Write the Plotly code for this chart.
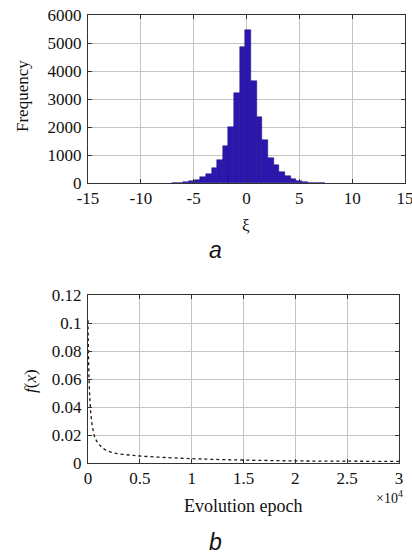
import plotly.graph_objects as go

# ---- Panel a: histogram of xi ----
xi_centers = [-6.79, -6.25, -5.72, -5.18, -4.65, -4.11, -3.58, -3.04, -2.51, -1.97,
              -1.44, -0.90, -0.37, 0.17, 0.70, 1.24, 1.77, 2.31, 2.84, 3.38,
              3.91, 4.45, 4.98, 5.52, 6.05, 6.59, 7.12]
xi_counts = [5, 12, 28, 60, 110, 200, 330, 540, 820, 1320,
             1990, 3225, 4870, 5450, 3655, 2346, 1520, 900, 630, 410,
             250, 150, 71, 36, 14, 6, 3]
bin_width = 0.535

# ---- Panel b: objective vs epoch ----
epochs = [0, 20, 50, 100, 150, 193, 290, 450, 700, 1100, 1700, 2700, 4000, 5000,
          7800, 10000, 12000, 15000, 20000, 25000, 30000]
fx = [0.102, 0.090, 0.075, 0.060, 0.050, 0.044, 0.034, 0.025, 0.0176, 0.013, 0.0093,
      0.0069, 0.0057, 0.0050, 0.0038, 0.0031, 0.0026, 0.0021, 0.0015, 0.0013, 0.0011]

x1_ticks = [-15, -10, -5, 0, 5, 10, 15]
x1_labels = ["-15", "-10", "-5", "0", "5", "10", "15"]
y1_ticks = [0, 1000, 2000, 3000, 4000, 5000, 6000]
x2_ticks = [0, 5000, 10000, 15000, 20000, 25000, 30000]
x2_labels = ["0", "0.5", "1", "1.5", "2", "2.5", "3"]
y2_ticks = [0, 0.02, 0.04, 0.06, 0.08, 0.1, 0.12]
y2_labels = ["0", "0.02", "0.04", "0.06", "0.08", "0.1", "0.12"]

W, H = 412, 555
SERIF = "Liberation Serif"
SANS = "Liberation Sans"

fig = go.Figure()
fig.add_trace(go.Bar(x=xi_centers, y=xi_counts, width=bin_width,
                     marker=dict(color="#2B17B0", line=dict(color="#1C0D80", width=0.5)),
                     xaxis="x", yaxis="y", showlegend=False))
fig.add_trace(go.Scatter(x=epochs, y=fx, mode="lines",
                         line=dict(color="#1a1a1a", width=1.3, dash="dot", shape="spline"),
                         xaxis="x2", yaxis="y2", showlegend=False))

axis_common = dict(showline=True, linecolor="#333333", linewidth=1, mirror="ticks",
                   ticks="inside", ticklen=4, tickcolor="#333333", automargin=False,
                   showgrid=True, gridcolor="#c4c4c4", gridwidth=1, zeroline=False,
                   tickfont=dict(family=SERIF, size=17, color="#111111"))

def px_x(p):
    return p / W

def px_y(p):
    return 1 - p / H

fig.update_layout(
    width=W, height=H, autosize=False, margin=dict(l=0, r=0, t=0, b=0, pad=0),
    paper_bgcolor="white", plot_bgcolor="white", bargap=0,
    xaxis=dict(domain=[px_x(88), px_x(405)], range=[-15, 15], tickvals=x1_ticks,
               ticktext=x1_labels, anchor="y", ticklabeloverflow="allow", **axis_common),
    yaxis=dict(domain=[px_y(183), px_y(15)], range=[0, 6000], tickvals=y1_ticks,
               anchor="x", ticklabelstandoff=2, **axis_common),
    xaxis2=dict(domain=[px_x(88), px_x(399)], range=[0, 30000], tickvals=x2_ticks,
                ticktext=x2_labels, anchor="y2", ticklabeloverflow="allow", **axis_common),
    yaxis2=dict(domain=[px_y(463), px_y(295)], range=[0, 0.12], tickvals=y2_ticks,
                ticktext=y2_labels, anchor="x2", ticklabelstandoff=2, **axis_common),
)

def ann(text, x, y, size, family=SERIF, angle=0, xanchor="center"):
    fig.add_annotation(text=text, x=px_x(x), y=px_y(y), xref="paper", yref="paper",
                       showarrow=False, textangle=angle, xanchor=xanchor, yanchor="middle",
                       font=dict(family=family, size=size, color="#111111"))

ann("Frequency", 22, 96, 17, angle=-90)
ann("ξ", 246, 225, 17)
ann("<i>a</i>", 215, 250, 23, family=SANS)
ann("<i>f</i>(<i>x</i>)", 30, 381, 17, angle=-90)
ann("Evolution epoch", 243, 506, 18)
ann("×10<sup>4</sup>", 389, 497, 14)
ann("<i>b</i>", 215, 542, 23, family=SANS)

fig.write_html("out.html")
